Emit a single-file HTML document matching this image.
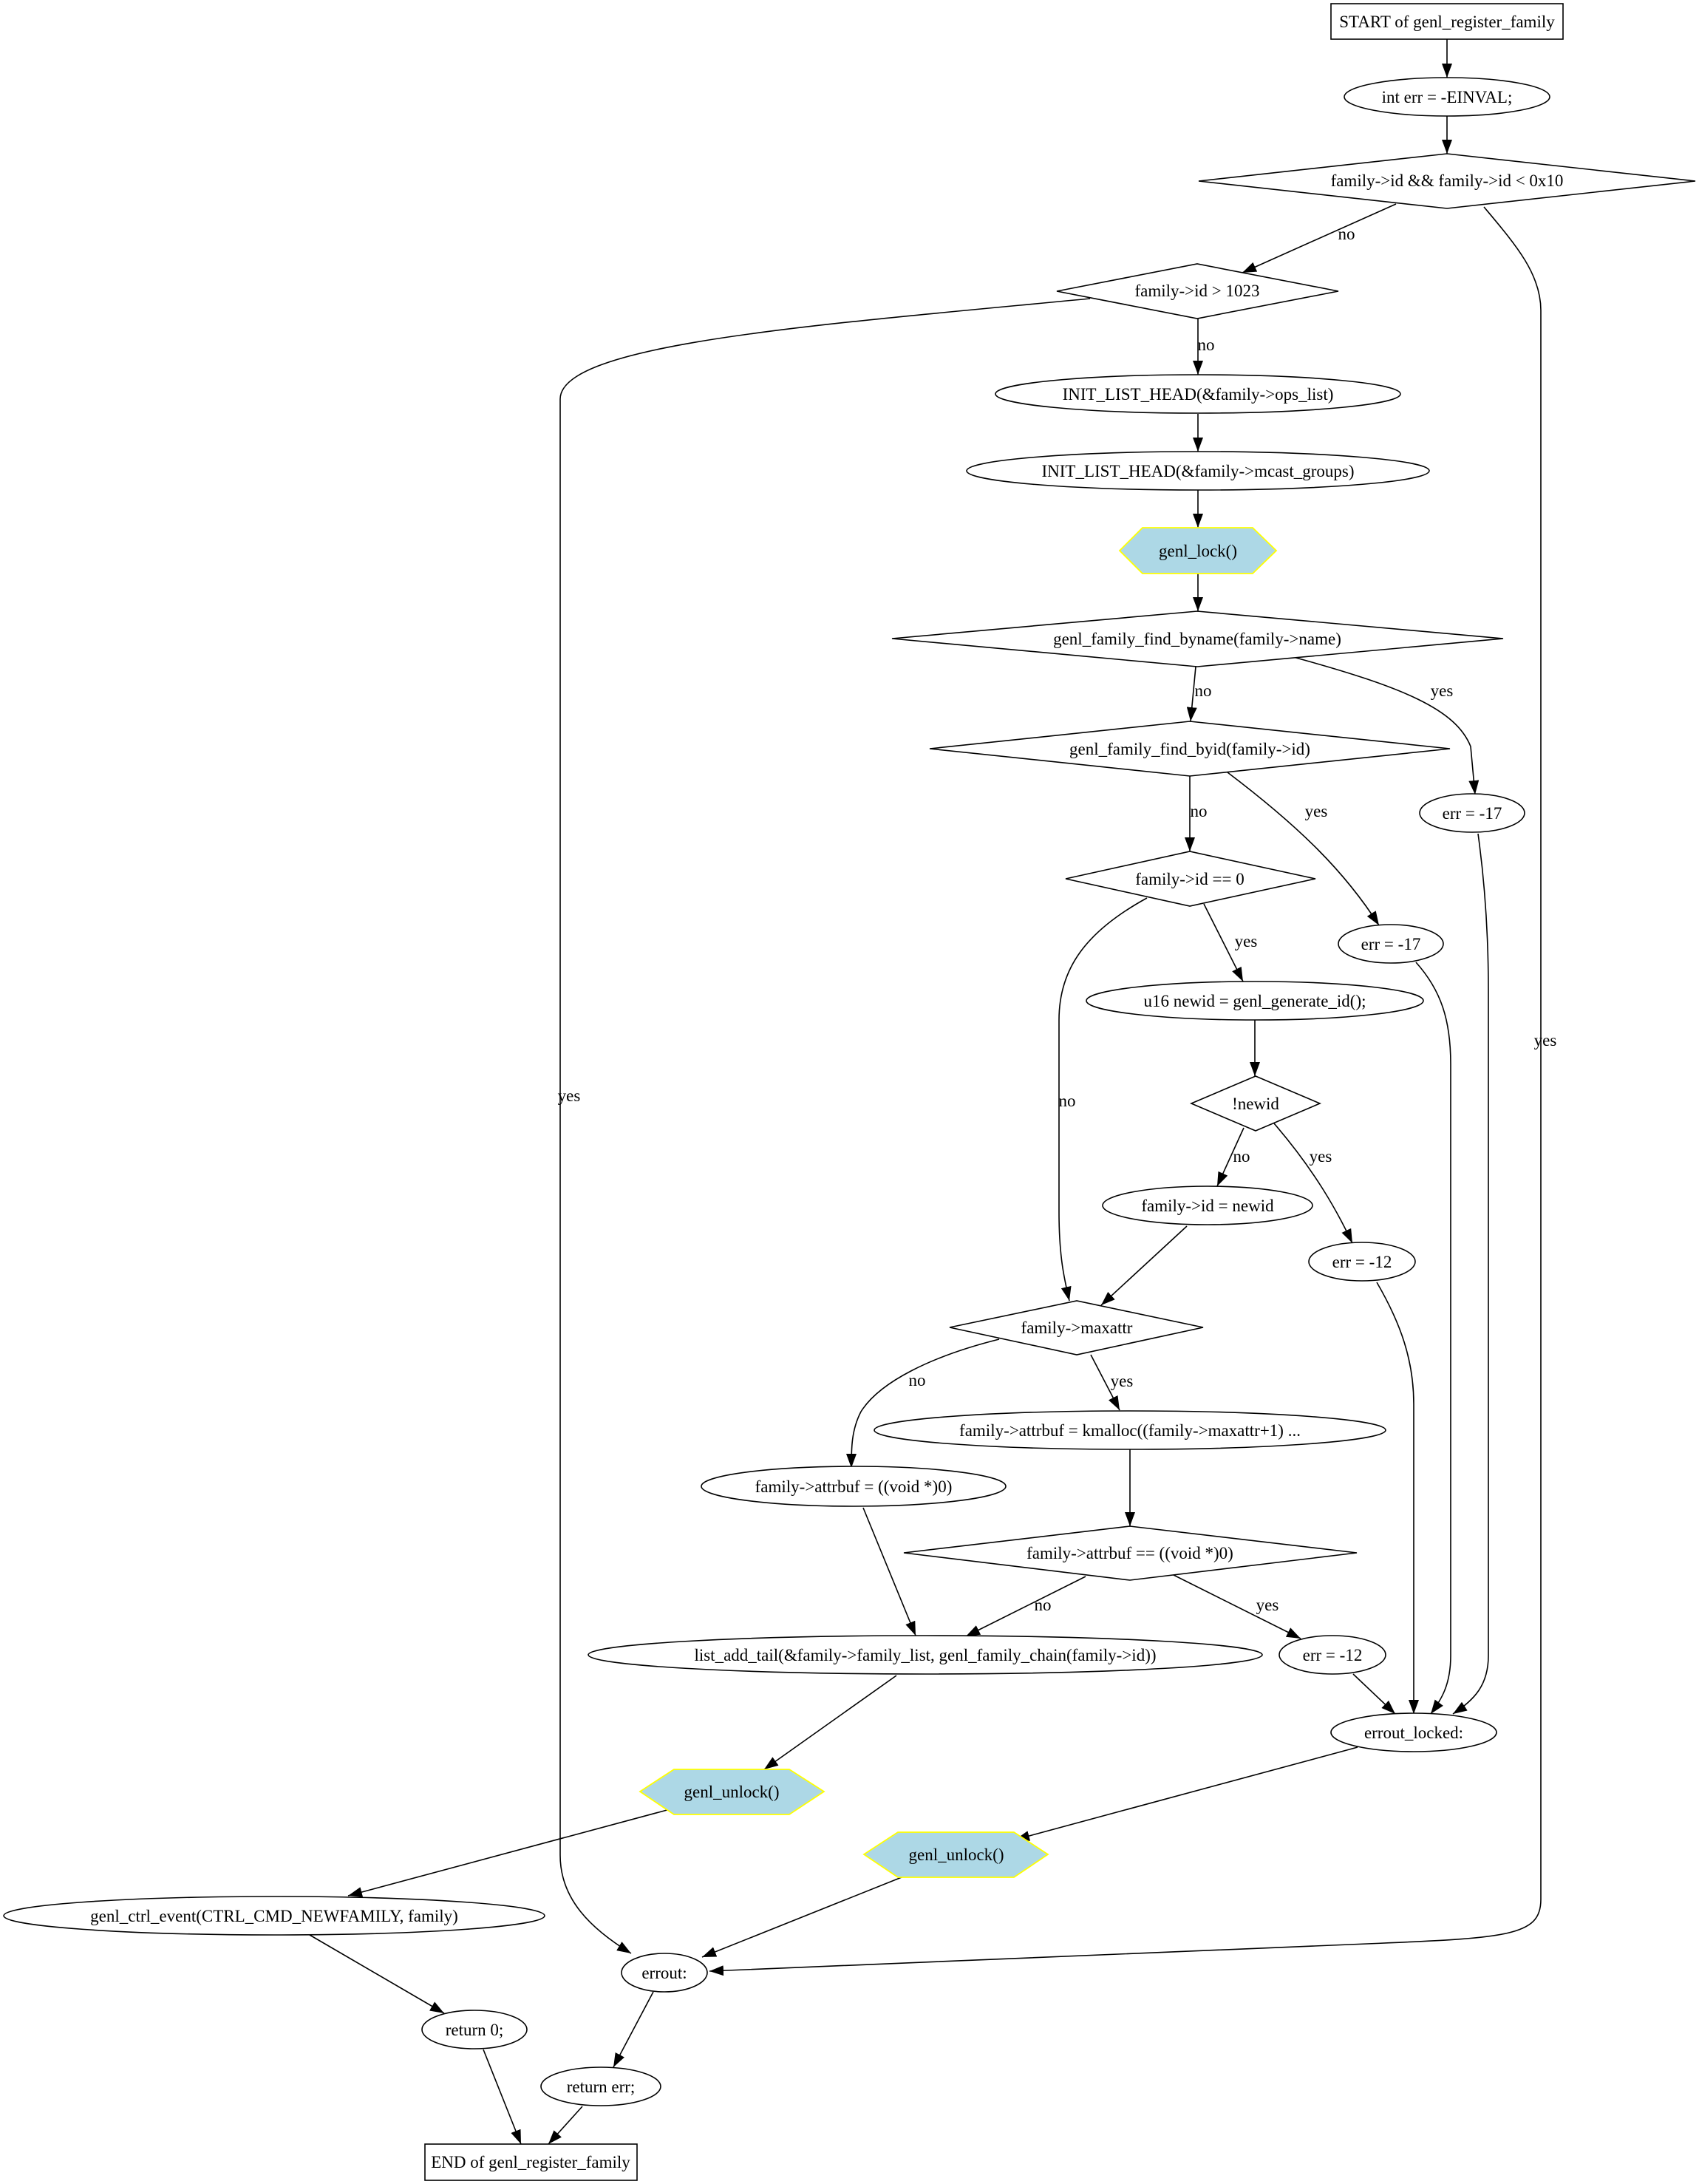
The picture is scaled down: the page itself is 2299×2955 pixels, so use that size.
<!DOCTYPE html>
<html><head><meta charset="utf-8"><style>
html,body{margin:0;padding:0;background:#fff;}
svg{display:block;}
text{font-family:"Liberation Serif",serif;font-size:23px;fill:#000;text-anchor:middle;}
.n{fill:#fff;stroke:#000;stroke-width:1.6;}
.h{fill:#add8e6;stroke:#ffff00;stroke-width:1.8;}
.e{fill:none;stroke:#000;stroke-width:1.6;}
</style></head><body>
<svg width="2299" height="2955" viewBox="0 0 2299 2955" xmlns="http://www.w3.org/2000/svg">
<defs><marker id="a" markerUnits="userSpaceOnUse" markerWidth="20" markerHeight="14" refX="19" refY="7" orient="auto"><path d="M0,0 L19,7 L0,14 Z" fill="#000"/></marker></defs>

<g class="e" marker-end="url(#a)">
<path d="M1958,53 L1958,105"/>
<path d="M1958,157 L1958,208"/>
<path d="M1889,276 L1681,369"/>
<path d="M2008,280 C2050,330 2085,370 2085,420 L2085,2570 C2085,2620 2040,2622 1850,2630 L960,2667"/>
<path d="M1475,404 C1100,440 758,465 758,540 L758,2510 C758,2570 800,2610 854,2643"/>
<path d="M1621,431 L1621,507"/>
<path d="M1621,560 L1621,611"/>
<path d="M1621,663 L1621,714"/>
<path d="M1621,776 L1621,827"/>
<path d="M1618,902 L1611,976"/>
<path d="M1750,889 C1900,930 1970,960 1990,1010 L1996,1075"/>
<path d="M1610,1050 L1610,1152"/>
<path d="M1661,1045 C1760,1120 1820,1180 1866,1252"/>
<path d="M1629,1223 L1682,1328"/>
<path d="M1552,1215 C1470,1260 1433,1310 1433,1380 L1433,1640 C1433,1700 1440,1730 1447,1760"/>
<path d="M1698,1380 L1698,1456"/>
<path d="M1683,1526 L1647,1605"/>
<path d="M1724,1520 C1780,1585 1810,1640 1830,1682"/>
<path d="M1606,1659 L1490,1766"/>
<path d="M2000,1128 C2010,1200 2014,1270 2014,1340 L2014,2240 C2014,2280 1995,2300 1966,2319"/>
<path d="M1916,1302 C1950,1340 1963,1380 1963,1440 L1963,2240 C1963,2280 1950,2300 1936,2319"/>
<path d="M1863,1735 C1895,1790 1913,1840 1913,1900 L1913,2319"/>
<path d="M1476,1833 L1515,1908"/>
<path d="M1352,1812 C1260,1835 1190,1870 1165,1910 C1152,1935 1152,1960 1152,1986"/>
<path d="M1529,1961 L1529,2065"/>
<path d="M1168,2040 L1239,2213"/>
<path d="M1469,2133 L1307,2214"/>
<path d="M1588,2131 L1760,2217"/>
<path d="M1831,2265 L1888,2319"/>
<path d="M1213,2267 L1034,2394"/>
<path d="M1837,2364 L1374,2489"/>
<path d="M910,2447 L471,2565"/>
<path d="M1225,2538 L950,2648"/>
<path d="M419,2618 L601,2724"/>
<path d="M884,2695 L830,2797"/>
<path d="M654,2773 L705,2901"/>
<path d="M788,2850 L742,2901"/>
</g>

<text x="1822" y="324">no</text>
<text x="1632" y="474">no</text>
<text x="770" y="1490">yes</text>
<text x="2091" y="1415">yes</text>
<text x="1628" y="942">no</text>
<text x="1951" y="942">yes</text>
<text x="1622" y="1105">no</text>
<text x="1781" y="1105">yes</text>
<text x="1686" y="1281">yes</text>
<text x="1444" y="1497">no</text>
<text x="1680" y="1572">no</text>
<text x="1787" y="1572">yes</text>
<text x="1518" y="1876">yes</text>
<text x="1241" y="1875">no</text>
<text x="1411" y="2179">no</text>
<text x="1715" y="2179">yes</text>

<rect class="n" x="1801" y="5" width="314" height="48"/>
<text x="1958" y="37">START of genl_register_family</text>

<ellipse class="n" cx="1958" cy="131" rx="139" ry="26"/>
<text x="1958" y="139">int err = -EINVAL;</text>

<polygon class="n" points="1622,245 1958,208 2294,245 1958,282"/>
<text x="1958" y="252">family-&gt;id &amp;&amp; family-&gt;id &lt; 0x10</text>

<polygon class="n" points="1430,394 1620,357 1811,394 1620,431"/>
<text x="1620" y="401">family-&gt;id &gt; 1023</text>

<ellipse class="n" cx="1621" cy="533" rx="274" ry="26"/>
<text x="1621" y="541">INIT_LIST_HEAD(&amp;family-&gt;ops_list)</text>

<ellipse class="n" cx="1621" cy="637" rx="313" ry="26"/>
<text x="1621" y="645">INIT_LIST_HEAD(&amp;family-&gt;mcast_groups)</text>

<polygon class="h" points="1515,745 1546,714 1695,714 1727,745 1695,776 1546,776"/>
<text x="1621" y="753">genl_lock()</text>

<polygon class="n" points="1207,864 1620,827 2034,864 1620,902"/>
<text x="1620" y="872">genl_family_find_byname(family-&gt;name)</text>

<polygon class="n" points="1258,1013 1610,976 1962,1013 1610,1050"/>
<text x="1610" y="1021">genl_family_find_byid(family-&gt;id)</text>

<ellipse class="n" cx="1992" cy="1100" rx="71" ry="26"/>
<text x="1992" y="1108">err = -17</text>

<polygon class="n" points="1442,1189 1610,1152 1780,1189 1610,1226"/>
<text x="1610" y="1197">family-&gt;id == 0</text>

<ellipse class="n" cx="1882" cy="1277" rx="71" ry="26"/>
<text x="1882" y="1285">err = -17</text>

<ellipse class="n" cx="1698" cy="1354" rx="228" ry="26"/>
<text x="1698" y="1362">u16 newid = genl_generate_id();</text>

<polygon class="n" points="1612,1493 1699,1456 1786,1493 1699,1530"/>
<text x="1699" y="1501">!newid</text>

<ellipse class="n" cx="1634" cy="1631" rx="142" ry="26"/>
<text x="1634" y="1639">family-&gt;id = newid</text>

<ellipse class="n" cx="1843" cy="1707" rx="72" ry="26"/>
<text x="1843" y="1715">err = -12</text>

<polygon class="n" points="1285,1796 1457,1760 1628,1796 1457,1833"/>
<text x="1457" y="1804">family-&gt;maxattr</text>

<ellipse class="n" cx="1529" cy="1935" rx="346" ry="26"/>
<text x="1529" y="1943">family-&gt;attrbuf = kmalloc((family-&gt;maxattr+1)  ...</text>

<ellipse class="n" cx="1155" cy="2011" rx="206" ry="27"/>
<text x="1155" y="2019">family-&gt;attrbuf = ((void *)0)</text>

<polygon class="n" points="1223,2101 1529,2065 1836,2101 1529,2138"/>
<text x="1529" y="2109">family-&gt;attrbuf == ((void *)0)</text>

<ellipse class="n" cx="1252" cy="2239" rx="456" ry="26"/>
<text x="1252" y="2247">list_add_tail(&amp;family-&gt;family_list, genl_family_chain(family-&gt;id))</text>

<ellipse class="n" cx="1803" cy="2239" rx="72" ry="26"/>
<text x="1803" y="2247">err = -12</text>

<ellipse class="n" cx="1913" cy="2344" rx="112" ry="26"/>
<text x="1913" y="2352">errout_locked:</text>

<polygon class="h" points="866,2424 912,2394 1068,2394 1115,2424 1068,2455 912,2455"/>
<text x="990" y="2432">genl_unlock()</text>

<polygon class="h" points="1169,2509 1215,2479 1372,2479 1418,2509 1372,2540 1215,2540"/>
<text x="1294" y="2517">genl_unlock()</text>

<ellipse class="n" cx="371" cy="2592" rx="366" ry="26"/>
<text x="371" y="2600">genl_ctrl_event(CTRL_CMD_NEWFAMILY, family)</text>

<ellipse class="n" cx="899" cy="2669" rx="58" ry="26"/>
<text x="899" y="2677">errout:</text>

<ellipse class="n" cx="642" cy="2746" rx="71" ry="26"/>
<text x="642" y="2754">return 0;</text>

<ellipse class="n" cx="813" cy="2823" rx="81" ry="26"/>
<text x="813" y="2831">return err;</text>

<rect class="n" x="575" y="2901" width="287" height="49"/>
<text x="718" y="2933">END of genl_register_family</text>
</svg>
</body></html>
